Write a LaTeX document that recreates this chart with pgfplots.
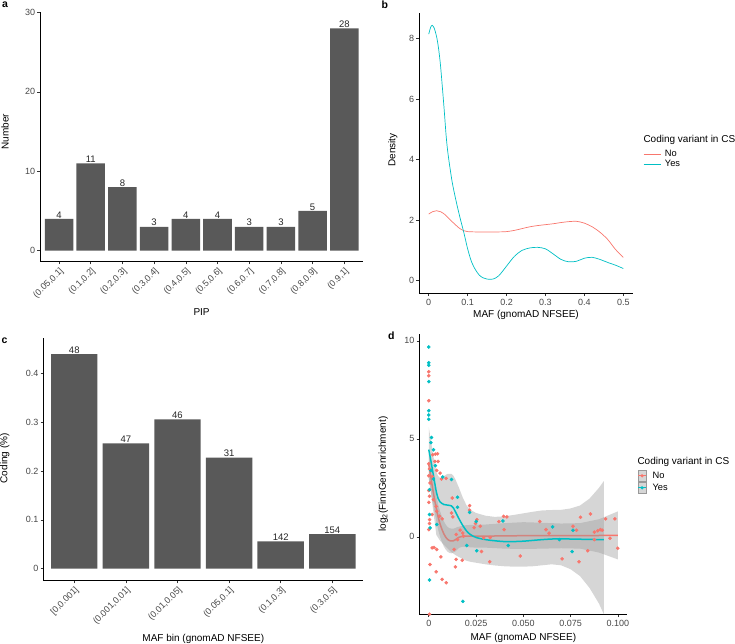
\documentclass[border=0pt]{standalone}
\usepackage{fontspec}
\setmainfont{Liberation Sans}
\usepackage{pgfplots}
\usepackage{pgfplotstable}
\pgfplotsset{compat=1.18}

\definecolor{barc}{HTML}{595959}
\definecolor{ggred}{HTML}{F8766D}
\definecolor{ggcyan}{HTML}{00BFC4}

\pgfplotsset{
  ggclassic/.style={
    scale only axis,
    anchor=south west,
    axis lines=left,
    axis line style={-, line width=0.6pt, black},
    tick align=outside,
    major tick length=2.75pt,
    tick style={line width=0.55pt, black!80},
    ticklabel style={font=\fontsize{9}{10}\selectfont, text=black!72},
    yticklabel style={inner sep=2pt},
    /pgf/number format/assume math mode=true,
  },
  barlabels/.style={
    nodes near coords,
    every node near coord/.append style={font=\fontsize{9.5}{10}\selectfont, anchor=south, inner sep=0.6pt, text=black!85},
  },
}

% panel d data
\pgfplotstableread{
x y
0 9.69
0 8.88
0 8.76
0 7.92
0 6.44
0 6.22
0 6.0
0.0014 5.07
0.0011 4.81
0.0025 4.44
0.0035 3.63
0.0012 3.39
0.0025 2.95
0.0004 2.41
0.0004 1.14
0.0007 0.46
0.0004 -2.2
0.0042 0.63
0.0074 3.05
0.012 2.93
0.0152 2.02
0.0152 1.51
0.0216 1.25
0.0201 -0.44
0.0251 0.78
0.0254 -0.71
0.018 -3.29
0.0392 0.81
0.042 -0.44
0.0655 0.51
0.0691 -0.14
0.0763 0.34
0.0758 -0.75
}\yespts

\pgfplotstableread{
x y
0 8.42
0 8.22
0 6.95
0.0004 -3.95
0 3.73
0.0004 3.46
0 3.12
0.0007 2.75
0 2.37
0.0004 2.07
0 1.76
0.0004 0.88
0.0004 0.68
0 0.37
0.0021 4.19
0.0035 4.22
0.0046 4.24
0.0032 3.85
0.0049 3.85
0.0042 3.39
0.006 3.25
0.0067 2.95
0.0018 3.08
0.0025 1.9
0.0039 1.56
0.0042 1.31
0.0018 1.14
0.0057 1.05
0.0071 0.92
0.0018 -0.56
0.0028 -0.54
0.0042 -0.64
0.0064 -1.02
0.0007 -1.41
0.0039 -1.78
0.0071 -2.17
0.0092 -2.34
0.012 1.22
0.0127 1.02
0.0124 1.98
0.0145 -1.15
0.0141 -1.53
0.0177 -1.19
0.0216 1.59
0.0216 1.36
0.0145 0.12
0.0152 -0.14
0.0166 0.34
0.018 0.2
0.0184 0.03
0.0134 -0.64
0.0254 0.88
0.0247 0.68
0.024 0.47
0.0272 0.54
0.029 -0.05
0.0279 -0.75
0.0322 -1.27
0.0325 -0.03
0.0371 0.78
0.0396 1.05
0.0399 0.37
0.0413 1.02
0.0484 -0.98
0.0587 0.78
0.062 0.37
0.0636 0.19
0.0705 -1.12
0.0763 0.54
0.0781 0.34
0.0795 -1.27
0.0802 1.0
0.0841 -0.71
0.0855 1.17
0.0876 0.24
0.0894 0.31
0.0908 0.37
0.0917 0.34
0.0876 -0.14
0.0935 0.92
0.0958 -0.07
0.0984 0.92
0.1 -0.58
0.0092 2.98
}\nopts

% smooth fits
\pgfplotstableread{
x fit
0 3.7
0.001 3.1
0.002 2.5
0.003 1.95
0.004 1.45
0.005 1.0
0.006 0.65
0.007 0.38
0.008 0.15
0.009 -0.02
0.010 -0.13
0.011 -0.19
0.012 -0.21
0.013 -0.2
0.014 -0.15
0.015 -0.08
0.016 -0.02
0.018 0.03
0.02 0.04
0.025 0.04
0.03 0.04
0.04 0.05
0.05 0.06
0.06 0.06
0.07 0.06
0.08 0.06
0.09 0.07
0.1 0.08
}\nofit

\pgfplotstableread{
x fit
0 4.45
0.001 3.95
0.002 3.4
0.003 2.85
0.004 2.3
0.005 1.95
0.006 1.78
0.008 1.65
0.010 1.62
0.012 1.58
0.013 1.48
0.014 1.3
0.016 0.92
0.018 0.58
0.020 0.3
0.022 0.12
0.025 -0.03
0.03 -0.14
0.035 -0.2
0.04 -0.24
0.045 -0.24
0.05 -0.22
0.055 -0.18
0.06 -0.14
0.065 -0.11
0.07 -0.1
0.075 -0.11
0.08 -0.12
0.085 -0.13
0.09 -0.14
0.0926 -0.14
}\yesfit

% confidence bands: upper edge forward, lower edge back
\pgfplotstableread{
x y
0 4.4
0.001 3.8
0.002 3.2
0.003 2.65
0.004 2.1
0.005 1.65
0.006 1.3
0.007 1.03
0.008 0.8
0.009 0.62
0.010 0.5
0.011 0.44
0.012 0.42
0.013 0.42
0.014 0.45
0.015 0.5
0.016 0.52
0.018 0.57
0.02 0.6
0.025 0.62
0.03 0.63
0.04 0.7
0.05 0.75
0.06 0.72
0.07 0.68
0.08 0.7
0.09 0.9
0.1 1.3
0.1 -1.15
0.09 -0.8
0.08 -0.6
0.07 -0.58
0.06 -0.6
0.05 -0.62
0.04 -0.6
0.03 -0.55
0.025 -0.55
0.02 -0.52
0.018 -0.5
0.016 -0.56
0.015 -0.66
0.014 -0.75
0.013 -0.8
0.012 -0.84
0.011 -0.82
0.010 -0.76
0.009 -0.65
0.008 -0.5
0.007 -0.27
0.006 0.0
0.005 0.35
0.004 0.8
0.003 1.3
0.002 1.8
0.001 2.4
0 3.0
}\noband

\pgfplotstableread{
x y
0 5.6
0.001 5.0
0.002 4.4
0.003 3.8
0.004 3.3
0.005 3.1
0.006 3.0
0.008 3.1
0.010 3.22
0.012 3.22
0.013 3.12
0.014 2.95
0.016 2.5
0.018 2.0
0.020 1.6
0.022 1.38
0.025 1.22
0.03 1.08
0.035 1.02
0.04 1.05
0.045 1.12
0.05 1.2
0.055 1.28
0.06 1.35
0.065 1.37
0.07 1.38
0.075 1.45
0.08 1.6
0.085 1.95
0.09 2.5
0.0926 2.85
0.0926 -3.95
0.09 -3.4
0.085 -2.6
0.08 -2.0
0.075 -1.65
0.07 -1.45
0.065 -1.4
0.06 -1.45
0.055 -1.5
0.05 -1.52
0.045 -1.52
0.04 -1.5
0.035 -1.46
0.03 -1.4
0.025 -1.32
0.022 -1.27
0.020 -1.22
0.018 -1.13
0.016 -1.03
0.014 -0.92
0.013 -0.85
0.012 -0.78
0.010 -0.6
0.008 -0.4
0.006 -0.2
0.005 -0.05
0.004 0.1
0.003 0.85
0.002 1.6
0.001 2.3
0 3.0
}\yesband

\begin{document}
\begin{tikzpicture}
\useasboundingbox (0pt,0pt) rectangle (735pt,644pt);

% ---------------- panel a
\begin{axis}[ggclassic, at={(40pt,382.3pt)}, width=323.3pt, height=250pt,
  xmin=0.4, xmax=10.6, ymin=-1.4, ymax=30.1,
  ytick={0,10,20,30},
  xtick={1,...,10},
  xticklabels={{(0.05,0.1]},{(0.1,0.2]},{(0.2,0.3]},{(0.3,0.4]},{(0.4,0.5]},{(0.5,0.6]},{(0.6,0.7]},{(0.7,0.8]},{(0.8,0.9]},{(0.9,1]}},
  xticklabel style={rotate=45, anchor=north east, inner sep=1.5pt},
  ybar, bar width=0.9, bar shift=0pt, barlabels]
\addplot[fill=barc, draw=none] coordinates {
  (1,4) (2,11) (3,8) (4,3) (5,4) (6,4) (7,3) (8,3) (9,5) (10,28)};
\end{axis}

% ---------------- panel b
\begin{axis}[ggclassic, at={(419pt,350.7pt)}, width=214pt, height=280.6pt,
  xmin=-0.025, xmax=0.525, ymin=-0.42, ymax=8.86,
  xtick={0,0.1,0.2,0.3,0.4,0.5}, ytick={0,2,4,6,8},
  legend style={at={(axis description cs:1.047,0.515)}, anchor=north west, draw=none, fill=none,
    font=\fontsize{9.3}{10}\selectfont, inner sep=0pt, column sep=3pt,
    nodes={inner sep=1pt, text height=6.5pt, text depth=1.8pt}},
  legend cell align=left,
  legend image code/.code={\draw[#1] (0pt,0pt) -- (17pt,0pt);}]
\addplot[ggred, line width=0.7pt, smooth] coordinates {
  (0,2.2) (0.01,2.28) (0.02,2.31) (0.03,2.28) (0.04,2.2) (0.05,2.08) (0.06,1.95)
  (0.07,1.83) (0.08,1.72) (0.09,1.65) (0.1,1.62) (0.12,1.61) (0.15,1.61) (0.18,1.61)
  (0.2,1.62) (0.22,1.66) (0.24,1.72) (0.26,1.78) (0.28,1.82) (0.3,1.85) (0.32,1.88)
  (0.34,1.92) (0.36,1.95) (0.38,1.96) (0.4,1.9) (0.42,1.78) (0.44,1.6) (0.46,1.36)
  (0.48,1.03) (0.5,0.77)};
\addplot[ggcyan, line width=0.7pt, smooth] coordinates {
  (0,8.15) (0.005,8.38) (0.009,8.44) (0.014,8.35) (0.02,8.08) (0.025,7.7) (0.03,7.15)
  (0.035,6.4) (0.04,5.6) (0.045,4.75) (0.05,4.15) (0.06,3.28) (0.07,2.65) (0.08,2.1)
  (0.09,1.6) (0.1,1.05) (0.11,0.62) (0.12,0.36) (0.13,0.18) (0.14,0.09) (0.15,0.05)
  (0.165,0.05) (0.18,0.16) (0.2,0.48) (0.22,0.8) (0.24,1.0) (0.26,1.08) (0.28,1.1)
  (0.3,1.05) (0.32,0.88) (0.34,0.7) (0.36,0.62) (0.38,0.64) (0.4,0.74) (0.42,0.77)
  (0.44,0.7) (0.46,0.6) (0.48,0.51) (0.5,0.4)};
\legend{No,Yes}
\end{axis}

% ---------------- panel c
\begin{axis}[ggclassic, at={(43.3pt,63.3pt)}, width=320pt, height=242.4pt,
  xmin=0.4, xmax=6.6, ymin=-0.0246, ymax=0.472,
  ytick={0,0.1,0.2,0.3,0.4},
  xtick={1,...,6},
  xticklabels={{[0,0.001]},{(0.001,0.01]},{(0.01,0.05]},{(0.05,0.1]},{(0.1,0.3]},{(0.3,0.5]}},
  xticklabel style={rotate=45, anchor=north east, inner sep=1.5pt},
  ybar, bar width=0.9, bar shift=0pt, barlabels, point meta=explicit symbolic]
\addplot[fill=barc, draw=none] coordinates {
  (1,0.4396) [48] (2,0.2567) [47] (3,0.3058) [46] (4,0.2273) [31] (5,0.056) [142] (6,0.071) [154]};
\end{axis}

% ---------------- panel d
\begin{axis}[ggclassic, at={(419.3pt,29.7pt)}, width=208pt, height=280.3pt,
  xmin=-0.005, xmax=0.105, ymin=-3.95, ymax=10.35,
  xtick={0,0.025,0.05,0.075,0.1}, xticklabels={0,0.025,0.050,0.075,0.100},
  ytick={0,5,10},
  legend style={at={(axis description cs:1.048,0.516)}, anchor=north west, draw=none, fill=none,
    font=\fontsize{9.3}{10}\selectfont, inner sep=0pt, column sep=4.5pt,
    nodes={inner sep=1.5pt, text height=7pt, text depth=2pt}},
  legend cell align=left]
\addplot[only marks, mark=*, mark size=1.6pt, ggred, mark options={draw=none}, forget plot] table[x=x,y=y] {\nopts};
\addplot[only marks, mark=*, mark size=1.6pt, ggcyan, mark options={draw=none}, forget plot] table[x=x,y=y] {\yespts};
\addplot[fill=black!40, fill opacity=0.4, draw=none, forget plot] table[x=x,y=y] {\noband} -- cycle;
\addplot[ggred, line width=1.5pt, smooth, forget plot] table[x=x,y=fit] {\nofit};
\addplot[fill=black!40, fill opacity=0.4, draw=none, forget plot] table[x=x,y=y] {\yesband} -- cycle;
\addplot[ggcyan, line width=1.5pt, smooth, forget plot] table[x=x,y=fit] {\yesfit};
\addlegendimage{legend image code/.code={
  \fill[black!40, fill opacity=0.4] (0pt,-5.5pt) rectangle (8pt,5.5pt);
  \draw[ggred, line width=1.1pt] (0pt,0pt) -- (8pt,0pt);
  \fill[ggred] (4pt,0pt) circle (1.4pt);}}
\addlegendentry{No}
\addlegendimage{legend image code/.code={
  \fill[black!40, fill opacity=0.4] (0pt,-5.5pt) rectangle (8pt,5.5pt);
  \draw[ggcyan, line width=1.1pt] (0pt,0pt) -- (8pt,0pt);
  \fill[ggcyan] (4pt,0pt) circle (1.4pt);}}
\addlegendentry{Yes}
\end{axis}

% ---------------- titles and panel letters
\begin{scope}[every node/.style={font=\fontsize{10}{11}\selectfont, inner sep=0pt}]
\node[rotate=90] at (5pt,512.3pt) {Number};
\node at (201.6pt,332.3pt) {PIP};
\node[rotate=90] at (392.7pt,494pt) {Density};
\node at (526pt,329pt) {MAF (gnomAD NFSEE)};
\node[rotate=90] at (4.8pt,185.7pt) {Coding (\%)};
\node at (203.3pt,5pt) {MAF bin (gnomAD NFSEE)};
\node[rotate=90] at (383.3pt,170pt) {log\textsubscript{2}(FinnGen enrichment)};
\node at (523.3pt,5.7pt) {MAF (gnomAD NFSEE)};
\end{scope}
\node[anchor=west, inner sep=0pt, font=\fontsize{10}{11}\selectfont] at (643.3pt,504pt) {Coding variant in CS};
\node[anchor=west, inner sep=0pt, font=\fontsize{10}{11}\selectfont] at (637.3pt,182pt) {Coding variant in CS};
\begin{scope}[every node/.style={font=\bfseries\fontsize{10.5}{11}\selectfont, inner sep=0pt, anchor=base west}]
\node at (2pt,636pt) {a};
\node at (381.5pt,635.7pt) {b};
\node at (1.5pt,300.7pt) {c};
\node at (388pt,304pt) {d};
\end{scope}
\end{tikzpicture}
\end{document}
